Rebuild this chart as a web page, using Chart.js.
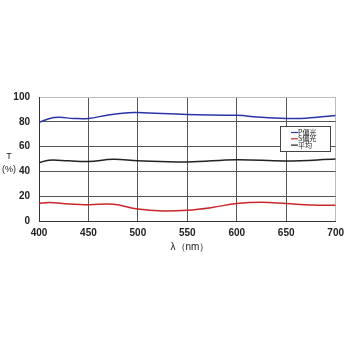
<!DOCTYPE html>
<html><head><meta charset="utf-8">
<script src="https://cdn.jsdelivr.net/npm/chart.js@4"></script>
<style>html,body{margin:0;padding:0;background:#fff}#w{width:350px;height:350px}</style>
</head><body><div id="w"><canvas id="c" width="350" height="350"></canvas></div>
<script>
const seriesLabels = ["P偏光", "S偏光", "平均"];
const pWave = [400, 410, 420, 435, 450, 470, 490, 500, 550, 600, 625, 650, 670, 700];
const pVals = [79.5, 82.5, 83.6, 82.7, 82.7, 85.5, 87.2, 87.4, 85.8, 85.2, 83.6, 82.7, 82.9, 85.1];
const aWave = [400, 410, 430, 450, 475, 500, 550, 600, 650, 700];
const aVals = [47, 49, 48.5, 48, 49.7, 48.6, 47.6, 49.4, 48.4, 50];
const sWave = [400, 410, 430, 450, 475, 500, 525, 550, 575, 600, 625, 650, 675, 700];
const sVals = [14, 15, 13.8, 13.2, 13.5, 9.6, 8.1, 8.7, 10.9, 14.1, 15.1, 14.1, 12.9, 12.7];
const xTicks = [400, 450, 500, 550, 600, 650, 700];
const yTicks = [0, 20, 40, 60, 80, 100];
const colors = ["#2a35a8", "#c8282a", "#222222"];

function pts(w, v){ return w.map((x,i)=>({x:x, y:v[i]})); }

const extra = {
  id:'extra',
  afterDraw(chart){
    const ctx = chart.ctx;
    ctx.save();
    ctx.fillStyle = '#222';
    ctx.font = '9px "Liberation Sans", Arial, sans-serif';
    ctx.textAlign = 'center';
    ctx.fillText('T', 9, 159);
    ctx.fillText('(%)', 9, 172);
    ctx.font = '10px "Liberation Sans", Arial, sans-serif';
    ctx.fillText('λ（nm）', 190, 250);
    // legend box
    const lx = 280, ly = 126, lw = 50, lh = 25;
    ctx.fillStyle = '#fff';
    ctx.fillRect(lx, ly, lw, lh);
    ctx.strokeStyle = '#444'; ctx.lineWidth = 1;
    ctx.strokeRect(lx+0.5, ly+0.5, lw, lh);
    ctx.font = '7px "Noto Sans CJK JP", sans-serif';
    ctx.textAlign = 'left'; ctx.textBaseline = 'middle';
    [0,1,2].forEach((k,i)=>{
      const yy = ly + 6.5 + i*6.3;
      ctx.strokeStyle = colors[k]; ctx.lineWidth = 1.2;
      ctx.beginPath(); ctx.moveTo(lx+11, yy); ctx.lineTo(lx+18, yy); ctx.stroke();
      ctx.fillStyle = '#222';
      ctx.fillText(chart.data.datasets[k].label, lx+18, yy);
    });
    ctx.restore();
  }
};

new Chart(document.getElementById('c'), {
  type:'line',
  data:{datasets:[
    {label:seriesLabels[0], data:pts(pWave,pVals), borderColor:colors[0], borderWidth:1.5, pointRadius:0, tension:0.4},
    {label:seriesLabels[1], data:pts(sWave,sVals), borderColor:colors[1], borderWidth:1.5, pointRadius:0, tension:0.4},
    {label:seriesLabels[2], data:pts(aWave,aVals), borderColor:colors[2], borderWidth:1.5, pointRadius:0, tension:0.4}
  ]},
  options:{
    responsive:false, animation:false,
    layout:{padding:{top:97, right:12, bottom:100, left:0}},
    plugins:{legend:{display:false}, tooltip:{enabled:false}},
    scales:{
      x:{type:'linear', min:400, max:700,
        afterBuildTicks(s){ s.ticks = xTicks.map(v=>({value:v})); },
        afterFit(s){ s.height = 29; },
        grid:{color:(c)=> (c.tick && (c.tick.value===700)) ? '#bbb' : '#555', lineWidth:1, drawTicks:false},
        border:{color:'#333', width:1},
        ticks:{padding:6, color:'#222', font:{size:10, family:'"Liberation Sans", Arial, sans-serif', weight:'bold'}, maxRotation:0}
      },
      y:{min:0, max:100,
        afterBuildTicks(s){ s.ticks = yTicks.map(v=>({value:v})); },
        afterFit(s){ s.width = 39; },
        grid:{color:(c)=> (c.tick && c.tick.value===100) ? '#bbb' : '#555', lineWidth:1, drawTicks:false},
        border:{color:'#333', width:1},
        ticks:{padding:9, color:'#222', font:{size:10, family:'"Liberation Sans", Arial, sans-serif', weight:'bold'}}
      }
    }
  },
  plugins:[extra]
});
</script></body></html>
